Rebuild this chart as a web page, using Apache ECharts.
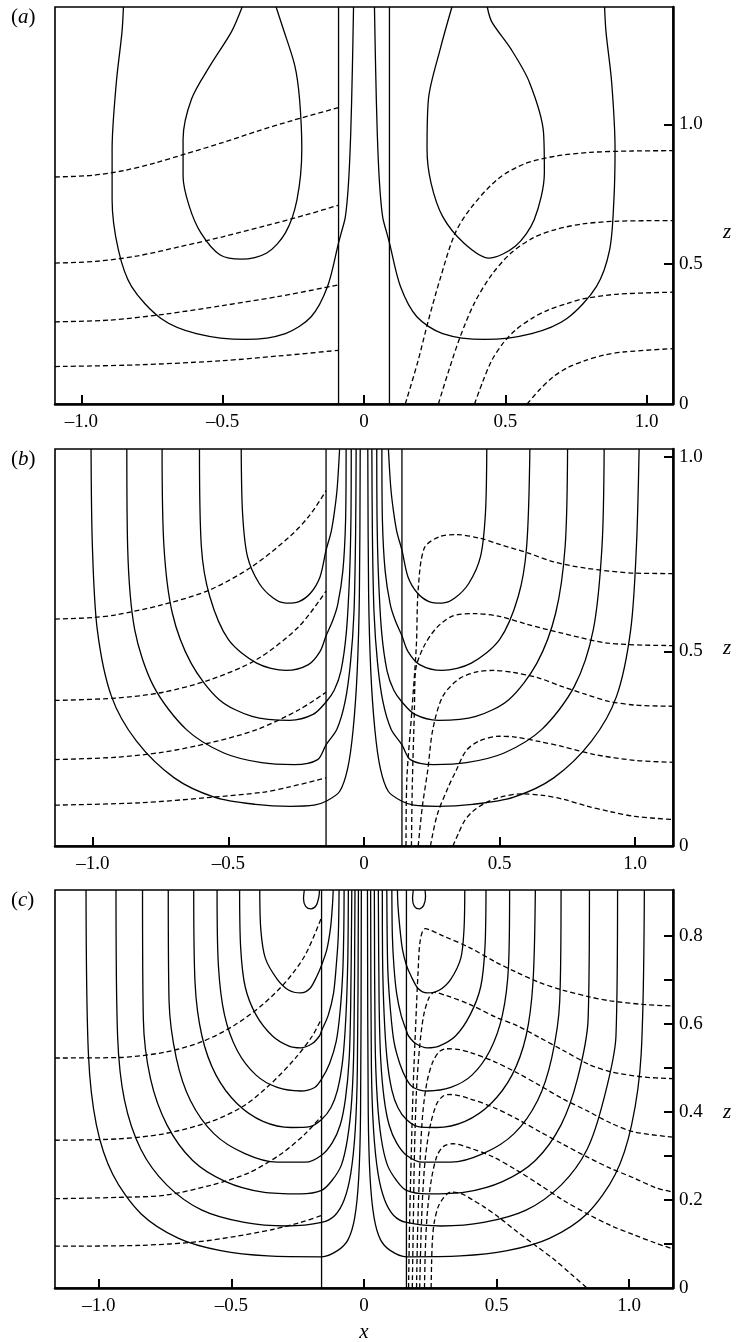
<!DOCTYPE html>
<html>
<head>
<meta charset="utf-8">
<script src="https://cdn.jsdelivr.net/npm/echarts@6/dist/echarts.min.js"></script>
<style>
  html, body { margin: 0; padding: 0; background: #fff; }
  #main { width: 736px; height: 1342px; }
</style>
</head>
<body>
<div id="main"></div>
<script>
// ---- tick values ----
const xTicks = [-1, -0.5, 0, 0.5, 1];
const aZTicks = [0.5, 1.0];
const aZLabels = [0, 0.5, 1.0];
const bZTicks = [0.5, 1.0];
const bZLabels = [0, 0.5, 1.0];
const cZTicks = [0.1, 0.2, 0.3, 0.4, 0.5, 0.6, 0.7, 0.8];
const cZLabels = [0, 0.2, 0.4, 0.6, 0.8];

// ---- panel (a) ----
const aWallL = [[-0.09, 0], [-0.09, 1.42]];
const aWallR = [[0.09, 0], [0.09, 1.42]];
const aLobeL = [[-0.851,1.42],[-0.856,1.331],[-0.876,1.151],[-0.891,0.911],[-0.891,0.731],[-0.869,0.552],[-0.822,0.42],[-0.718,0.306],[-0.593,0.252],[-0.419,0.231],[-0.278,0.252],[-0.187,0.312],[-0.129,0.42],[-0.09,0.576],[-0.081,0.61],[-0.066,0.669],[-0.055,0.788],[-0.047,0.967],[-0.041,1.205],[-0.037,1.42]];
const aLobeR = [[0.037,1.42],[0.041,1.205],[0.047,0.967],[0.055,0.788],[0.066,0.669],[0.081,0.61],[0.09,0.576],[0.129,0.42],[0.187,0.312],[0.278,0.252],[0.427,0.231],[0.593,0.252],[0.718,0.306],[0.822,0.42],[0.869,0.552],[0.884,0.731],[0.888,0.911],[0.876,1.151],[0.856,1.331],[0.851,1.42]];
const aDropL = [[-0.431,1.42],[-0.469,1.331],[-0.544,1.211],[-0.61,1.091],[-0.64,0.947],[-0.64,0.815],[-0.618,0.707],[-0.577,0.612],[-0.51,0.534],[-0.432,0.518],[-0.344,0.54],[-0.278,0.612],[-0.237,0.731],[-0.22,0.911],[-0.228,1.091],[-0.245,1.211],[-0.286,1.343],[-0.311,1.42]];
const aDropR = [[0.311,1.42],[0.27,1.271],[0.228,1.091],[0.223,0.911],[0.237,0.791],[0.278,0.671],[0.353,0.576],[0.441,0.522],[0.535,0.564],[0.602,0.659],[0.638,0.827],[0.635,0.971],[0.585,1.151],[0.519,1.271],[0.452,1.367],[0.436,1.42]];
const aDashL1 = [[-1.093,0.812],[-0.96,0.818],[-0.85,0.835],[-0.74,0.862],[-0.63,0.895],[-0.5,0.935],[-0.38,0.975],[-0.25,1.015],[-0.09,1.06]];
const aDashL2 = [[-1.093,0.504],[-0.95,0.51],[-0.8,0.53],[-0.65,0.563],[-0.5,0.598],[-0.35,0.637],[-0.2,0.678],[-0.09,0.711]];
const aDashL3 = [[-1.093,0.294],[-0.9,0.3],[-0.7,0.322],[-0.5,0.352],[-0.3,0.385],[-0.09,0.426]];
const aDashL4 = [[-1.093,0.134],[-0.8,0.14],[-0.5,0.155],[-0.3,0.172],[-0.09,0.192]];
const aDashR1 = [[0.146,0],[0.19,0.15],[0.228,0.3],[0.27,0.45],[0.322,0.61],[0.381,0.705],[0.475,0.806],[0.57,0.86],[0.68,0.887],[0.8,0.9],[0.95,0.905],[1.093,0.906]];
const aDashR2 = [[0.263,0],[0.3,0.12],[0.34,0.24],[0.39,0.36],[0.45,0.46],[0.52,0.54],[0.6,0.595],[0.68,0.625],[0.78,0.645],[0.9,0.654],[1.093,0.656]];
const aDashR3 = [[0.391,0],[0.42,0.08],[0.452,0.156],[0.49,0.215],[0.535,0.264],[0.6,0.31],[0.651,0.336],[0.72,0.36],[0.784,0.378],[0.9,0.393],[1.093,0.4]];
const aDashR4 = [[0.577,0],[0.62,0.05],[0.668,0.096],[0.72,0.13],[0.784,0.156],[0.85,0.175],[0.917,0.186],[1.093,0.198]];

// ---- panel (b) ----
const bWallL = [[-0.14, 0], [-0.14, 1.02]];
const bWallR = [[0.14, 0], [0.14, 1.02]];
const bU1L = [[-0.453,1.02],[-0.448,0.855],[-0.43,0.744],[-0.387,0.675],[-0.335,0.637],[-0.288,0.624],[-0.24,0.628],[-0.197,0.65],[-0.162,0.692],[-0.14,0.76],[-0.121,0.808],[-0.109,0.859],[-0.099,0.919],[-0.09,1.02]];
const bU2L = [[-0.607,1.02],[-0.6,0.769],[-0.569,0.641],[-0.5,0.53],[-0.396,0.47],[-0.288,0.451],[-0.205,0.466],[-0.162,0.5],[-0.14,0.54],[-0.115,0.58],[-0.097,0.62],[-0.078,0.707],[-0.068,0.835],[-0.066,1.02]];
const bU3L = [[-0.745,1.02],[-0.738,0.769],[-0.707,0.598],[-0.638,0.47],[-0.534,0.376],[-0.413,0.333],[-0.274,0.323],[-0.188,0.338],[-0.14,0.37],[-0.11,0.4],[-0.085,0.45],[-0.065,0.55],[-0.053,0.7],[-0.048,0.85],[-0.047,1.02]];
const bU4L = [[-0.875,1.02],[-0.872,0.769],[-0.846,0.556],[-0.776,0.41],[-0.655,0.299],[-0.517,0.239],[-0.378,0.214],[-0.257,0.209],[-0.171,0.222],[-0.14,0.26],[-0.1,0.3],[-0.07,0.37],[-0.05,0.47],[-0.037,0.6],[-0.031,0.8],[-0.029,1.02]];
const bU5L = [[-1.007,1.02],[-1.002,0.769],[-0.984,0.556],[-0.932,0.385],[-0.84,0.27],[-0.7,0.175],[-0.55,0.125],[-0.4,0.107],[-0.271,0.102],[-0.184,0.105],[-0.14,0.115],[-0.09,0.14],[-0.06,0.2],[-0.04,0.3],[-0.025,0.45],[-0.017,0.65],[-0.014,1.02]];
const bU1R = [[0.09,1.02],[0.099,0.919],[0.109,0.859],[0.121,0.808],[0.14,0.76],[0.162,0.692],[0.197,0.65],[0.24,0.628],[0.288,0.624],[0.335,0.637],[0.387,0.675],[0.43,0.744],[0.448,0.855],[0.453,1.02]];
const bU2R = [[0.066,1.02],[0.068,0.835],[0.078,0.707],[0.097,0.62],[0.115,0.58],[0.14,0.54],[0.162,0.5],[0.205,0.466],[0.288,0.451],[0.396,0.47],[0.5,0.53],[0.569,0.641],[0.6,0.769],[0.612,1.02]];
const bU3R = [[0.047,1.02],[0.048,0.85],[0.053,0.7],[0.065,0.55],[0.085,0.45],[0.11,0.4],[0.14,0.37],[0.188,0.338],[0.274,0.323],[0.413,0.333],[0.534,0.376],[0.638,0.47],[0.707,0.598],[0.742,0.769],[0.751,1.02]];
const bU4R = [[0.029,1.02],[0.031,0.8],[0.037,0.6],[0.05,0.47],[0.07,0.37],[0.1,0.3],[0.14,0.26],[0.171,0.222],[0.257,0.209],[0.378,0.214],[0.517,0.239],[0.655,0.299],[0.776,0.41],[0.846,0.556],[0.878,0.769],[0.886,1.02]];
const bU5R = [[0.014,1.02],[0.017,0.65],[0.025,0.45],[0.04,0.3],[0.06,0.2],[0.09,0.14],[0.14,0.115],[0.184,0.105],[0.271,0.102],[0.4,0.107],[0.55,0.125],[0.7,0.175],[0.84,0.27],[0.932,0.385],[0.984,0.556],[1.005,0.769],[1.015,1.02]];
const bDashL1 = [[-1.14,0.583],[-1.0,0.587],[-0.915,0.594],[-0.742,0.62],[-0.569,0.658],[-0.413,0.718],[-0.274,0.795],[-0.2,0.85],[-0.14,0.913]];
const bDashL2 = [[-1.14,0.374],[-0.915,0.38],[-0.742,0.395],[-0.569,0.427],[-0.396,0.479],[-0.24,0.564],[-0.14,0.655]];
const bDashL3 = [[-1.14,0.222],[-0.915,0.228],[-0.742,0.241],[-0.569,0.265],[-0.396,0.299],[-0.24,0.35],[-0.14,0.395]];
const bDashL4 = [[-1.14,0.105],[-0.826,0.111],[-0.566,0.125],[-0.375,0.138],[-0.274,0.152],[-0.14,0.175]];
const bHook1 = [[0.155,0],[0.158,0.17],[0.176,0.342],[0.193,0.513],[0.2,0.66],[0.223,0.766],[0.279,0.795],[0.34,0.8],[0.426,0.791],[0.5,0.775],[0.609,0.752],[0.7,0.73],[0.816,0.714],[1.0,0.701],[1.14,0.7]];
const bHook2 = [[0.175,0],[0.178,0.15],[0.186,0.35],[0.19,0.45],[0.219,0.51],[0.268,0.561],[0.328,0.591],[0.41,0.597],[0.5,0.59],[0.6,0.57],[0.73,0.547],[0.903,0.521],[1.14,0.515]];
const bHook3 = [[0.2,0],[0.215,0.1],[0.235,0.194],[0.254,0.3],[0.291,0.385],[0.352,0.43],[0.42,0.448],[0.48,0.451],[0.55,0.446],[0.643,0.432],[0.73,0.41],[0.816,0.39],[0.9,0.372],[1.0,0.362],[1.14,0.359]];
const bHook4 = [[0.245,0],[0.27,0.08],[0.31,0.15],[0.34,0.194],[0.377,0.245],[0.426,0.27],[0.5,0.282],[0.557,0.28],[0.65,0.268],[0.73,0.256],[0.85,0.235],[1.0,0.22],[1.14,0.215]];
const bHook5 = [[0.328,0],[0.35,0.035],[0.372,0.066],[0.4,0.088],[0.441,0.108],[0.5,0.125],[0.58,0.134],[0.66,0.13],[0.736,0.12],[0.82,0.103],[0.91,0.088],[1.0,0.076],[1.14,0.068]];

// ---- panel (c) ----
const cWallL = [[-0.16, 0], [-0.16, 0.905]];
const cWallR = [[0.16, 0], [0.16, 0.905]];
const cU1L = [[-0.393,0.905],[-0.389,0.815],[-0.372,0.75],[-0.327,0.702],[-0.283,0.677],[-0.239,0.671],[-0.204,0.681],[-0.177,0.71],[-0.16,0.734],[-0.14,0.77],[-0.126,0.82],[-0.119,0.87],[-0.116,0.905]];
const cU2L = [[-0.469,0.905],[-0.465,0.774],[-0.448,0.685],[-0.407,0.621],[-0.345,0.573],[-0.283,0.55],[-0.239,0.546],[-0.195,0.556],[-0.168,0.573],[-0.16,0.585],[-0.135,0.62],[-0.115,0.67],[-0.105,0.73],[-0.097,0.8],[-0.094,0.905]];
const cU3L = [[-0.554,0.905],[-0.549,0.734],[-0.526,0.621],[-0.478,0.54],[-0.407,0.484],[-0.327,0.456],[-0.239,0.448],[-0.186,0.456],[-0.16,0.475],[-0.13,0.51],[-0.105,0.56],[-0.09,0.63],[-0.08,0.72],[-0.076,0.82],[-0.075,0.905]];
const cU4L = [[-0.642,0.905],[-0.637,0.694],[-0.611,0.573],[-0.558,0.484],[-0.478,0.419],[-0.381,0.379],[-0.274,0.365],[-0.204,0.367],[-0.16,0.383],[-0.125,0.41],[-0.1,0.45],[-0.08,0.52],[-0.068,0.62],[-0.061,0.75],[-0.059,0.905]];
const cU5L = [[-0.738,0.905],[-0.735,0.653],[-0.708,0.524],[-0.655,0.427],[-0.566,0.351],[-0.451,0.306],[-0.327,0.286],[-0.221,0.286],[-0.16,0.302],[-0.12,0.33],[-0.09,0.37],[-0.07,0.43],[-0.056,0.52],[-0.05,0.65],[-0.046,0.905]];
const cU6L = [[-0.835,0.905],[-0.832,0.612],[-0.805,0.476],[-0.743,0.371],[-0.646,0.29],[-0.522,0.242],[-0.381,0.218],[-0.239,0.214],[-0.16,0.222],[-0.12,0.245],[-0.085,0.28],[-0.062,0.34],[-0.046,0.43],[-0.038,0.56],[-0.034,0.905]];
const cU7L = [[-0.935,0.905],[-0.929,0.573],[-0.903,0.427],[-0.841,0.315],[-0.743,0.234],[-0.611,0.177],[-0.451,0.149],[-0.292,0.141],[-0.16,0.149],[-0.11,0.165],[-0.075,0.2],[-0.05,0.26],[-0.033,0.36],[-0.025,0.5],[-0.021,0.905]];
const cU8L = [[-1.048,0.905],[-1.039,0.532],[-1.009,0.371],[-0.947,0.258],[-0.841,0.169],[-0.699,0.113],[-0.54,0.085],[-0.363,0.073],[-0.16,0.071],[-0.1,0.085],[-0.06,0.11],[-0.035,0.16],[-0.02,0.25],[-0.013,0.4],[-0.01,0.905]];
const cLoopL = [[-0.225,0.905],[-0.228,0.885],[-0.22,0.868],[-0.2,0.862],[-0.18,0.87],[-0.17,0.89],[-0.168,0.905]];
const cU1R = [[0.126,0.905],[0.128,0.87],[0.135,0.82],[0.145,0.77],[0.16,0.734],[0.177,0.71],[0.204,0.681],[0.239,0.671],[0.283,0.677],[0.327,0.702],[0.365,0.75],[0.377,0.815],[0.38,0.905]];
const cU2R = [[0.105,0.905],[0.107,0.8],[0.113,0.73],[0.123,0.67],[0.14,0.62],[0.16,0.585],[0.168,0.573],[0.195,0.556],[0.239,0.546],[0.283,0.55],[0.345,0.573],[0.4,0.621],[0.44,0.685],[0.456,0.774],[0.46,0.905]];
const cU3R = [[0.086,0.905],[0.087,0.82],[0.09,0.72],[0.1,0.63],[0.113,0.56],[0.135,0.51],[0.16,0.475],[0.186,0.456],[0.239,0.448],[0.327,0.456],[0.407,0.484],[0.475,0.54],[0.522,0.621],[0.545,0.734],[0.549,0.905]];
const cU4R = [[0.069,0.905],[0.07,0.75],[0.076,0.62],[0.087,0.52],[0.105,0.45],[0.128,0.41],[0.16,0.383],[0.204,0.367],[0.274,0.365],[0.381,0.379],[0.478,0.419],[0.558,0.484],[0.611,0.573],[0.637,0.694],[0.646,0.905]];
const cU5R = [[0.054,0.905],[0.057,0.65],[0.063,0.52],[0.076,0.43],[0.095,0.37],[0.123,0.33],[0.16,0.302],[0.221,0.286],[0.327,0.286],[0.451,0.306],[0.566,0.351],[0.655,0.427],[0.708,0.524],[0.738,0.653],[0.743,0.905]];
const cU6R = [[0.039,0.905],[0.042,0.56],[0.05,0.43],[0.065,0.34],[0.088,0.28],[0.122,0.245],[0.16,0.222],[0.239,0.214],[0.381,0.218],[0.522,0.242],[0.646,0.29],[0.743,0.371],[0.805,0.476],[0.845,0.612],[0.85,0.905]];
const cU7R = [[0.025,0.905],[0.028,0.5],[0.036,0.36],[0.053,0.26],[0.078,0.2],[0.112,0.165],[0.16,0.149],[0.292,0.141],[0.451,0.149],[0.611,0.177],[0.743,0.234],[0.841,0.315],[0.903,0.427],[0.95,0.573],[0.956,0.905]];
const cU8R = [[0.013,0.905],[0.016,0.4],[0.023,0.25],[0.038,0.16],[0.062,0.11],[0.1,0.085],[0.16,0.071],[0.363,0.073],[0.54,0.085],[0.699,0.113],[0.841,0.169],[0.947,0.258],[1.009,0.371],[1.045,0.532],[1.057,0.905]];
const cLoopR = [[0.186,0.905],[0.183,0.885],[0.19,0.868],[0.208,0.862],[0.225,0.87],[0.232,0.89],[0.23,0.905]];
const cDashL1 = [[-1.165,0.523],[-0.929,0.524],[-0.752,0.536],[-0.611,0.56],[-0.487,0.598],[-0.381,0.645],[-0.292,0.698],[-0.221,0.758],[-0.16,0.843]];
const cDashL2 = [[-1.165,0.336],[-0.929,0.339],[-0.752,0.351],[-0.575,0.379],[-0.451,0.415],[-0.345,0.468],[-0.257,0.524],[-0.195,0.573],[-0.16,0.613]];
const cDashL3 = [[-1.165,0.203],[-0.929,0.206],[-0.752,0.211],[-0.575,0.234],[-0.434,0.262],[-0.31,0.306],[-0.221,0.351],[-0.16,0.391]];
const cDashL4 = [[-1.165,0.095],[-0.841,0.097],[-0.628,0.105],[-0.487,0.117],[-0.345,0.133],[-0.239,0.149],[-0.16,0.165]];
const cHook1 = [[0.168,0],[0.172,0.15],[0.178,0.3],[0.185,0.45],[0.195,0.6],[0.204,0.72],[0.212,0.79],[0.23,0.817],[0.3,0.8],[0.398,0.774],[0.5,0.74],[0.575,0.718],[0.66,0.695],[0.752,0.677],[0.85,0.662],[0.929,0.653],[1.05,0.645],[1.165,0.641]];
const cHook2 = [[0.182,0],[0.186,0.15],[0.19,0.3],[0.198,0.45],[0.21,0.55],[0.225,0.62],[0.245,0.66],[0.265,0.672],[0.31,0.665],[0.398,0.645],[0.5,0.615],[0.575,0.597],[0.66,0.57],[0.752,0.54],[0.85,0.508],[0.929,0.492],[1.05,0.48],[1.165,0.476]];
const cHook3 = [[0.198,0],[0.203,0.15],[0.212,0.3],[0.222,0.4],[0.238,0.47],[0.26,0.515],[0.285,0.538],[0.31,0.544],[0.36,0.542],[0.398,0.536],[0.487,0.516],[0.575,0.49],[0.664,0.46],[0.75,0.43],[0.841,0.403],[0.93,0.375],[1.018,0.355],[1.165,0.343]];
const cHook4 = [[0.21,0],[0.215,0.12],[0.222,0.22],[0.232,0.3],[0.25,0.37],[0.275,0.42],[0.3,0.437],[0.327,0.44],[0.4,0.43],[0.487,0.411],[0.575,0.385],[0.664,0.355],[0.75,0.327],[0.841,0.298],[0.93,0.272],[1.018,0.25],[1.1,0.228],[1.165,0.218]];
const cHook5 = [[0.228,0],[0.232,0.1],[0.24,0.18],[0.255,0.25],[0.275,0.3],[0.3,0.322],[0.336,0.328],[0.4,0.318],[0.487,0.298],[0.575,0.268],[0.664,0.234],[0.75,0.2],[0.841,0.169],[0.93,0.142],[1.018,0.121],[1.1,0.102],[1.165,0.089]];
const cHook6 = [[0.253,0],[0.255,0.06],[0.258,0.11],[0.265,0.15],[0.28,0.185],[0.3,0.205],[0.327,0.218],[0.37,0.214],[0.41,0.2],[0.451,0.185],[0.51,0.16],[0.575,0.129],[0.65,0.095],[0.717,0.065],[0.78,0.032],[0.841,0]];

// ---- layout ----
const SERIF = '"Liberation Serif", "Times New Roman", serif';
const panels = [
  { top: 7,   height: 397, xmax: 1.093, zmax: 1.42,  zTicks: aZTicks, zLabels: aZLabels, tag: 'a', zLabelY: 232 },
  { top: 449, height: 397, xmax: 1.14,  zmax: 1.02,  zTicks: bZTicks, zLabels: bZLabels, tag: 'b', zLabelY: 648 },
  { top: 890, height: 398, xmax: 1.165, zmax: 0.905, zTicks: cZTicks, zLabels: cZLabels, tag: 'c', zLabelY: 1112 }
];

function fmt(v) {
  if (v === 0) return '0';
  const s = Math.abs(v).toFixed(1);
  return v < 0 ? '\u2013' + s : s;
}

const grid = panels.map(p => ({
  left: 55, width: 618, top: p.top, height: p.height,
  show: true, borderColor: '#000', borderWidth: 1.6, backgroundColor: 'transparent'
}));

const xAxis = panels.map((p, i) => ({
  gridIndex: i, type: 'value', min: -p.xmax, max: p.xmax, position: 'bottom',
  axisLine: { show: true, onZero: false, lineStyle: { color: '#000', width: 2.5 } },
  axisTick: { show: true, inside: true, length: 9, customValues: xTicks, lineStyle: { color: '#000', width: 2 } },
  axisLabel: { customValues: xTicks, formatter: fmt, color: '#000', fontFamily: SERIF, fontSize: 19, margin: 9 },
  splitLine: { show: false }
}));

const yAxis = panels.map((p, i) => ({
  gridIndex: i, type: 'value', min: 0, max: p.zmax, position: 'right',
  axisLine: { show: true, onZero: false, lineStyle: { color: '#000', width: 2.5 } },
  axisTick: { show: true, inside: true, length: 9, customValues: p.zTicks, lineStyle: { color: '#000', width: 2 } },
  axisLabel: { customValues: p.zLabels, formatter: fmt, color: '#000', fontFamily: SERIF, fontSize: 19, margin: 6 },
  splitLine: { show: false }
}));

function solid(data, g, smooth) {
  return {
    type: 'line', xAxisIndex: g, yAxisIndex: g, data: data, showSymbol: false,
    smooth: smooth === undefined ? 0.3 : smooth, silent: true, animation: false,
    lineStyle: { color: '#000', width: 1.3 }
  };
}
function dashed(data, g) {
  return {
    type: 'line', xAxisIndex: g, yAxisIndex: g, data: data, showSymbol: false,
    smooth: 0.3, silent: true, animation: false,
    lineStyle: { color: '#000', width: 1.3, type: [5, 3] }
  };
}

const series = [
  solid(aWallL, 0, false), solid(aWallR, 0, false),
  solid(aLobeL, 0), solid(aLobeR, 0), solid(aDropL, 0), solid(aDropR, 0),
  dashed(aDashL1, 0), dashed(aDashL2, 0), dashed(aDashL3, 0), dashed(aDashL4, 0),
  dashed(aDashR1, 0), dashed(aDashR2, 0), dashed(aDashR3, 0), dashed(aDashR4, 0),

  solid(bWallL, 1, false), solid(bWallR, 1, false),
  solid(bU1L, 1), solid(bU2L, 1), solid(bU3L, 1), solid(bU4L, 1), solid(bU5L, 1),
  solid(bU1R, 1), solid(bU2R, 1), solid(bU3R, 1), solid(bU4R, 1), solid(bU5R, 1),
  dashed(bDashL1, 1), dashed(bDashL2, 1), dashed(bDashL3, 1), dashed(bDashL4, 1),
  dashed(bHook1, 1), dashed(bHook2, 1), dashed(bHook3, 1), dashed(bHook4, 1), dashed(bHook5, 1),

  solid(cWallL, 2, false), solid(cWallR, 2, false),
  solid(cU1L, 2), solid(cU2L, 2), solid(cU3L, 2), solid(cU4L, 2),
  solid(cU5L, 2), solid(cU6L, 2), solid(cU7L, 2), solid(cU8L, 2), solid(cLoopL, 2),
  solid(cU1R, 2), solid(cU2R, 2), solid(cU3R, 2), solid(cU4R, 2),
  solid(cU5R, 2), solid(cU6R, 2), solid(cU7R, 2), solid(cU8R, 2), solid(cLoopR, 2),
  dashed(cDashL1, 2), dashed(cDashL2, 2), dashed(cDashL3, 2), dashed(cDashL4, 2),
  dashed(cHook1, 2), dashed(cHook2, 2), dashed(cHook3, 2), dashed(cHook4, 2), dashed(cHook5, 2), dashed(cHook6, 2)
];

const rich = {
  p: { fontFamily: SERIF, fontSize: 21, fill: '#000' },
  i: { fontFamily: SERIF, fontSize: 21, fontStyle: 'italic', fill: '#000' }
};
const graphic = [];
panels.forEach(p => {
  graphic.push({
    type: 'text', left: 11, top: p.top,
    style: { text: '{p|(}{i|' + p.tag + '}{p|)}', rich: rich }
  });
  graphic.push({
    type: 'text', x: 727, y: p.zLabelY,
    style: { text: 'z', font: 'italic 21px "Liberation Serif", serif', fill: '#000', align: 'center', verticalAlign: 'middle' }
  });
});
graphic.push({
  type: 'text', x: 364, y: 1332,
  style: { text: 'x', font: 'italic 21px "Liberation Serif", serif', fill: '#000', align: 'center', verticalAlign: 'middle' }
});

const chart = echarts.init(document.getElementById('main'), null, { renderer: 'canvas' });
chart.setOption({
  backgroundColor: '#fff',
  animation: false,
  grid: grid,
  xAxis: xAxis,
  yAxis: yAxis,
  series: series,
  graphic: graphic
});
window.onresize = function () { chart.resize(); };
</script>
</body>
</html>
